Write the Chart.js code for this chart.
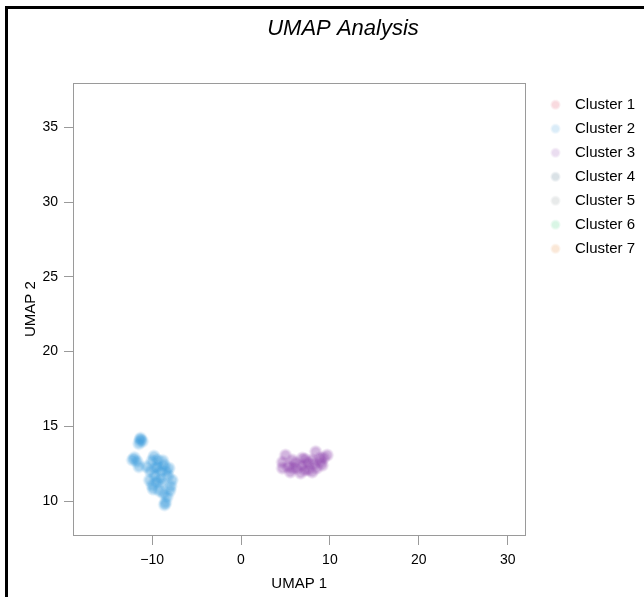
<!DOCTYPE html>
<html>
<head>
<meta charset="utf-8">
<title>UMAP Analysis</title>
<script src="https://cdn.jsdelivr.net/npm/chart.js@4.4.1/dist/chart.umd.min.js"></script>
<style>
html, body { margin: 0; padding: 0; background: #fff; overflow: hidden; }
#frame { position: absolute; left: 5px; top: 6px; border-left: 3px solid #000; border-top: 3px solid #000; }
#box { position: relative; width: 670px; height: 588px; }
</style>
</head>
<body>
<div id="frame"><div id="box"><canvas id="umap"></canvas></div></div>
<script>
// cluster labels
const clusterNames = ["Cluster 1", "Cluster 2", "Cluster 3", "Cluster 4", "Cluster 5", "Cluster 6", "Cluster 7"];

// embedding coordinates per cluster (only 2 and 3 have cells)
const cluster1X = [];
const cluster1Y = [];
const cluster2X = [-11.35, -11.5, -11.3, -11.1, -12.0, -12.2, -11.7, -11.5, -9.8, -10.0, -9.4, -8.65, -8.1, -10.2,
                   -9.7, -10.3, -9.1, -7.75, -10.0, -9.2, -8.0, -8.3, -8.5, -8.6, -9.4, -8.9, -10.6, -8.4,
                   -7.9, -9.0, -9.6, -8.2, -9.9, -8.7, -8.8, -9.5];
const cluster2Y = [14.1, 13.85, 14.2, 14.0, 12.9, 12.75, 12.65, 12.3, 13.0, 12.7, 12.75, 12.4, 12.2, 12.0,
                   11.7, 11.4, 11.5, 11.4, 11.05, 10.7, 10.7, 10.3, 9.9, 9.75, 12.3, 11.2, 12.3, 12.0,
                   11.0, 12.0, 12.2, 11.7, 10.8, 10.5, 12.7, 11.3];
const cluster3X = [4.65, 4.65, 5.8, 6.3, 6.9, 7.2, 8.0, 8.4, 8.9, 9.15, 8.0, 6.7, 5.55, 5.0, 9.7, 7.5, 6.1, 7.6, 9.3,
                   5.3, 6.9, 8.5, 7.2, 9.0, 5.8, 8.2];
const cluster3Y = [12.6, 12.2, 12.74, 12.2, 12.87, 12.07, 12.74, 13.3, 12.87, 12.4, 11.94, 11.87, 11.94, 13.07, 13.07, 12.54, 12.54, 12.1, 12.9,
                   12.3, 12.4, 12.2, 12.8, 12.6, 12.2, 12.5];
const cluster4X = [];
const cluster4Y = [];
const cluster5X = [];
const cluster5Y = [];
const cluster6X = [];
const cluster6Y = [];
const cluster7X = [];
const cluster7Y = [];

// axis ticks
const xTicks = [-10, 0, 10, 20, 30];
const yTicks = [10, 15, 20, 25, 30, 35];

const clusterXs = [cluster1X, cluster2X, cluster3X, cluster4X, cluster5X, cluster6X, cluster7X];
const clusterYs = [cluster1Y, cluster2Y, cluster3Y, cluster4Y, cluster5Y, cluster6Y, cluster7Y];

const palette = ["220,50,80", "52,152,219", "142,68,173", "52,94,120", "127,140,141", "46,204,113", "230,126,34"];
const FONT = "'Liberation Sans', Arial, sans-serif";

// soft-edged round dot; dx shifts it sideways inside a wider canvas
function softDot(rgb, alpha, r, w, dx) {
    const c = document.createElement("canvas");
    c.width = w;
    c.height = 16;
    const g = c.getContext("2d");
    const cx = w / 2 + dx;
    const grad = g.createRadialGradient(cx, 8, 0, cx, 8, r);
    grad.addColorStop(0, `rgba(${rgb},${alpha})`);
    grad.addColorStop(0.55, `rgba(${rgb},${alpha})`);
    grad.addColorStop(1, `rgba(${rgb},0)`);
    g.fillStyle = grad;
    g.fillRect(0, 0, w, 16);
    return c;
}

// grey box round the plotting area
const plotFrame = {
    id: "plotFrame",
    beforeDatasetsDraw(chart) {
        const { ctx, chartArea: a } = chart;
        ctx.save();
        ctx.strokeStyle = "#9a9a9a";
        ctx.lineWidth = 1;
        ctx.strokeRect(Math.round(a.left) + 0.5, Math.round(a.top) + 0.5,
            Math.round(a.right - a.left), Math.round(a.bottom - a.top));
        ctx.restore();
    }
};

const datasets = clusterNames.map((name, i) => ({
    label: name,
    data: clusterXs[i].map((x, j) => ({ x: x, y: clusterYs[i][j] })),
    backgroundColor: `rgba(${palette[i]},0.35)`,
    pointStyle: softDot(palette[i], 0.4, 7, 16, 0),
    borderWidth: 0,
    pointRadius: 5.5,
    pointHoverRadius: 5.5
}));

const minus = v => String(v).replace("-", "\u2212");

new Chart(document.getElementById("umap"), {
    type: "scatter",
    data: { datasets },
    plugins: [plotFrame],
    options: {
        responsive: true,
        maintainAspectRatio: false,
        animation: false,
        events: [],
        layout: { padding: { left: 33, right: 33 } },
        plugins: {
            title: {
                display: true,
                text: "UMAP Analysis",
                color: "#000",
                font: { family: FONT, size: 22, style: "italic", weight: "normal" },
                padding: { top: 7, bottom: 41 }
            },
            legend: {
                position: "right",
                align: "start",
                fullSize: false,
                title: { display: true, text: "", font: { size: 4 }, padding: 0 },
                labels: {
                    usePointStyle: true,
                    pointStyleWidth: 33,
                    padding: 9,
                    color: "#000",
                    font: { family: FONT, size: 15 },
                    generateLabels(chart) {
                        return Chart.defaults.plugins.legend.labels.generateLabels(chart).map((item, i) => {
                            item.pointStyle = softDot(palette[i], 0.18, 5.5, 26, 4.5);
                            item.lineWidth = 0;
                            return item;
                        });
                    }
                }
            },
            tooltip: { enabled: false }
        },
        scales: {
            x: {
                type: "linear",
                min: -18.9,
                max: 32,
                afterBuildTicks: s => { s.ticks = xTicks.map(v => ({ value: v })); },
                afterFit: s => { s.height = 62; },
                ticks: {
                    callback: minus,
                    color: "#000",
                    padding: 7,
                    maxRotation: 0,
                    autoSkip: false,
                    font: { family: FONT, size: 14 }
                },
                grid: { drawOnChartArea: false, tickLength: 10, color: "#9a9a9a" },
                border: { display: false },
                title: {
                    display: true,
                    text: "UMAP 1",
                    color: "#000",
                    font: { family: FONT, size: 15 },
                    padding: { top: 0, bottom: 4 }
                }
            },
            y: {
                type: "linear",
                min: 7.73,
                max: 37.94,
                afterBuildTicks: s => { s.ticks = yTicks.map(v => ({ value: v })); },
                afterFit: s => { s.width = 32; },
                ticks: {
                    color: "#000",
                    padding: 6,
                    autoSkip: false,
                    font: { family: FONT, size: 14 }
                },
                grid: { drawOnChartArea: false, tickLength: 9, color: "#9a9a9a" },
                border: { display: false },
                title: {
                    display: true,
                    text: "UMAP 2",
                    color: "#000",
                    font: { family: FONT, size: 15 },
                    padding: { top: -19, bottom: 0 }
                }
            }
        }
    }
});
</script>
</body>
</html>
